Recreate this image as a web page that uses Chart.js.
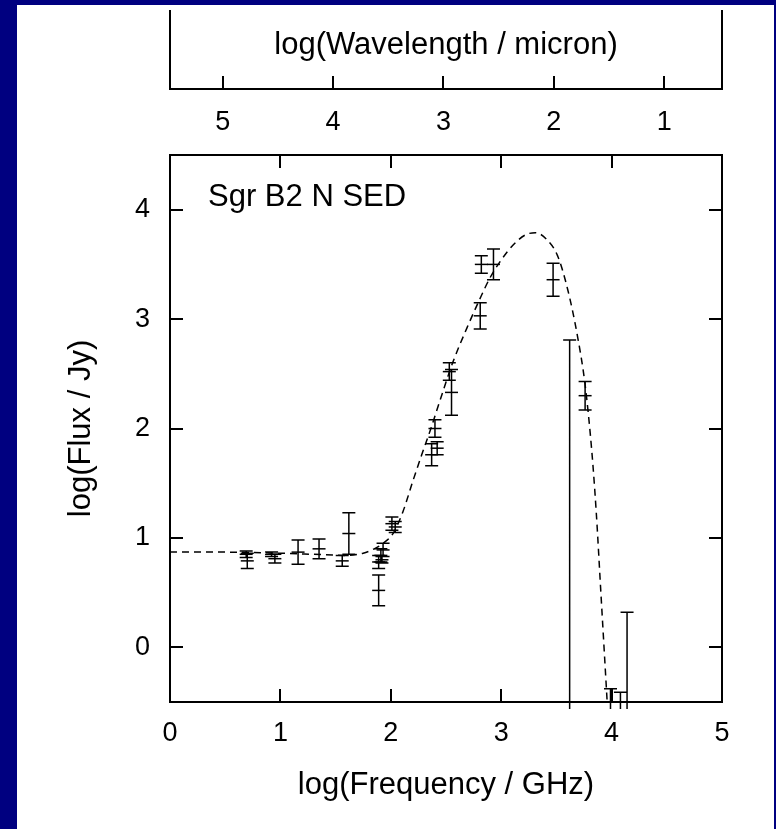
<!DOCTYPE html>
<html>
<head>
<meta charset="utf-8">
<title>Sgr B2 N SED</title>
<script src="https://cdn.jsdelivr.net/npm/chart.js@4/dist/chart.umd.min.js"></script>
<style>
  html, body { margin: 0; padding: 0; background: #000080; width: 776px; height: 829px; overflow: hidden; }
  #panel { position: absolute; left: 17px; top: 5px; width: 757px; height: 824px; background: #ffffff; }
  #panel canvas { position: absolute; left: 0; }
</style>
</head>
<body>
<div id="panel">
  <canvas id="lambdaAxis" width="757" height="147" style="top:0"></canvas>
  <canvas id="sedChart" width="757" height="682" style="top:142px"></canvas>
</div>
<script>
// ---- data -------------------------------------------------------------
// measured fluxes: log(nu / GHz), log(S / Jy), 1-sigma error
// upper limits are stored with the value off the bottom of the plot so
// only the bar up to the limit shows
const fluxNu = [0.69, 0.70, 0.92, 0.95, 1.16, 1.35, 1.56, 1.62,
  1.89, 1.89, 1.91, 1.93, 1.92, 2.01, 2.04,
  2.37, 2.40, 2.42, 2.53, 2.55, 2.81, 2.82, 2.93, 3.47,
  3.62, 3.76, 3.99, 4.08, 4.14];
const fluxVal = [0.85, 0.79, 0.85, 0.81, 0.87, 0.90, 0.79, 1.04,
  0.52, 0.78, 0.84, 0.89, 0.80, 1.13, 1.10,
  1.76, 2.00, 1.82, 2.52, 2.33, 3.03, 3.50, 3.50, 3.36,
  -1.00, 2.30, -1.00, -1.00, -1.00];
const fluxErr = [0.03, 0.07, 0.02, 0.04, 0.11, 0.09, 0.05, 0.19,
  0.14, 0.06, 0.06, 0.06, 0.03, 0.06, 0.05,
  0.10, 0.08, 0.06, 0.08, 0.21, 0.12, 0.08, 0.14, 0.15,
  3.81, 0.13, 0.62, 0.59, 1.32];

// greybody model
const modelNu = [0, 0.5, 1.0, 1.3, 1.6, 1.75, 1.85, 1.93, 2.02, 2.11, 2.20, 2.28,
  2.36, 2.45, 2.56, 2.69, 2.80, 2.90, 3.00, 3.11, 3.22, 3.31, 3.41, 3.51,
  3.60, 3.69, 3.76, 3.82, 3.86, 3.90, 3.96, 4.00];
const modelVal = [0.87, 0.87, 0.86, 0.85, 0.84, 0.86, 0.90, 0.95, 1.04, 1.24, 1.52, 1.76,
  1.99, 2.27, 2.60, 2.92, 3.17, 3.38, 3.54, 3.68, 3.77, 3.79, 3.73, 3.58,
  3.28, 2.85, 2.40, 1.80, 1.25, 0.55, -0.50, -1.20];

const freqTicks = [0, 1, 2, 3, 4, 5];
const fluxTicks = [0, 1, 2, 3, 4];
const lambdaTicks = [1, 2, 3, 4, 5];

// log(lambda / micron) = log(c / micron GHz) - log(nu / GHz)
const LOG_C = Math.log10(2.998e5);

// ---- style ------------------------------------------------------------
Chart.defaults.font.family = "'Liberation Sans', Arial, Helvetica, sans-serif";
Chart.defaults.color = "#000";

const INK = "#000";
const TICK_FONT = { size: 27 };
const TITLE_FONT = { size: 31 };
const inwardGrid = { drawOnChartArea: false, drawTicks: true, tickLength: -13, lineWidth: 2, color: INK };
const frame = { display: true, width: 2, color: INK };

function fixedTicks(values) {
  return (scale) => { scale.ticks = values.map((v) => ({ value: v })); };
}

// fixed box size; vertical axes must not push the plot down for label room
function boxSize(w, h) {
  return (s) => {
    if (w !== null) s.width = w;
    if (h !== null) s.height = h;
    s.paddingTop = 0;
    s.paddingBottom = 0;
    s.paddingLeft = 0;
    s.paddingRight = 0;
  };
}

// free text drawn relative to the chart area
function textPlugin(id, text, dx, dy, align, baseline) {
  return {
    id,
    afterDraw(chart) {
      const { ctx, chartArea } = chart;
      ctx.save();
      ctx.font = "31px 'Liberation Sans', Arial, sans-serif";
      ctx.fillStyle = INK;
      ctx.textAlign = align;
      ctx.textBaseline = baseline;
      const x = align === "center" ? (chartArea.left + chartArea.right) / 2 : chartArea.left + dx;
      ctx.fillText(text, x, chartArea.top + dy);
      ctx.restore();
    },
  };
}

// vertical error bars with caps, from fluxVal +/- fluxErr
const errorBars = {
  id: "errorBars",
  afterDatasetsDraw(chart) {
    const { ctx, chartArea, scales } = chart;
    const cap = 6.5;
    ctx.save();
    ctx.beginPath();
    ctx.rect(chartArea.left, chartArea.top, chartArea.right - chartArea.left, chartArea.bottom - chartArea.top + 7);
    ctx.clip();
    ctx.strokeStyle = INK;
    ctx.lineWidth = 1.5;
    ctx.beginPath();
    fluxNu.forEach((nu, i) => {
      const x = scales.x.getPixelForValue(nu);
      const yHi = scales.y.getPixelForValue(fluxVal[i] + fluxErr[i]);
      const yLo = scales.y.getPixelForValue(fluxVal[i] - fluxErr[i]);
      ctx.moveTo(x, yHi); ctx.lineTo(x, yLo);
      ctx.moveTo(x - cap, yHi); ctx.lineTo(x + cap, yHi);
      ctx.moveTo(x - cap, yLo); ctx.lineTo(x + cap, yLo);
    });
    ctx.stroke();
    ctx.restore();
  },
};

// ---- wavelength axis strip --------------------------------------------
new Chart(document.getElementById("lambdaAxis"), {
  type: "scatter",
  data: { datasets: [] },
  options: {
    responsive: false,
    animation: false,
    layout: { padding: { top: 6, left: 0, right: 0, bottom: 0 } },
    plugins: { legend: { display: false }, tooltip: { enabled: false } },
    scales: {
      x: {
        type: "linear",
        position: "bottom",
        reverse: true,
        min: LOG_C - 5,
        max: LOG_C,
        afterBuildTicks: fixedTicks(lambdaTicks),
        afterFit: boxSize(null, 63),
        grid: inwardGrid,
        border: frame,
        ticks: { font: TICK_FONT, padding: 30, color: INK, maxRotation: 0 },
      },
      y: {
        position: "left",
        min: 0, max: 1,
        afterFit: boxSize(153, null),
        grid: { display: false, drawTicks: false },
        border: frame,
        ticks: { display: false },
      },
      y2: {
        position: "right",
        min: 0, max: 1,
        afterFit: boxSize(52, null),
        grid: { display: false, drawTicks: false },
        border: frame,
        ticks: { display: false },
      },
    },
  },
  plugins: [textPlugin("lambdaTitle", "log(Wavelength / micron)", 0, 34, "center", "middle")],
});

// ---- SED plot ---------------------------------------------------------
new Chart(document.getElementById("sedChart"), {
  type: "scatter",
  data: {
    datasets: [
      {
        label: "model",
        data: modelNu.map((nu, i) => ({ x: nu, y: modelVal[i] })),
        showLine: true,
        borderColor: INK,
        borderWidth: 1.5,
        borderDash: [7, 5],
        cubicInterpolationMode: "monotone",
        pointRadius: 0,
      },
      {
        label: "Sgr B2 N",
        data: fluxNu.map((nu, i) => ({ x: nu, y: fluxVal[i] })),
        pointStyle: "line",
        pointRadius: 6.5,
        borderColor: INK,
        borderWidth: 1.5,
        showLine: false,
      },
    ],
  },
  options: {
    responsive: false,
    animation: false,
    layout: { padding: 0 },
    plugins: { legend: { display: false }, tooltip: { enabled: false } },
    scales: {
      x: {
        type: "linear",
        position: "bottom",
        min: 0, max: 5,
        afterBuildTicks: fixedTicks(freqTicks),
        afterFit: boxSize(null, 127),
        grid: inwardGrid,
        border: frame,
        ticks: { font: TICK_FONT, padding: 28, color: INK, maxRotation: 0 },
        title: { display: true, text: "log(Frequency / GHz)", font: TITLE_FONT, color: INK, padding: { top: 0, bottom: 25 } },
      },
      y: {
        type: "linear",
        position: "left",
        min: -0.5, max: 4.5,
        afterBuildTicks: fixedTicks(fluxTicks),
        afterFit: boxSize(153, null),
        grid: inwardGrid,
        border: frame,
        ticks: { font: TICK_FONT, padding: 33, color: INK },
        title: { display: true, text: "log(Flux / Jy)", font: TITLE_FONT, color: INK, padding: { top: 46, bottom: 0 } },
      },
      x2: {
        type: "linear",
        position: "top",
        min: 0, max: 5,
        afterBuildTicks: fixedTicks(freqTicks),
        afterFit: boxSize(null, 5),
        grid: inwardGrid,
        border: frame,
        ticks: { display: false },
      },
      y2: {
        type: "linear",
        position: "right",
        min: -0.5, max: 4.5,
        afterBuildTicks: fixedTicks(fluxTicks),
        afterFit: boxSize(52, null),
        grid: inwardGrid,
        border: frame,
        ticks: { display: false },
      },
    },
  },
  plugins: [errorBars, textPlugin("sedLabel", "Sgr B2 N SED", 38, 51, "left", "alphabetic")],
});
</script>
</body>
</html>
